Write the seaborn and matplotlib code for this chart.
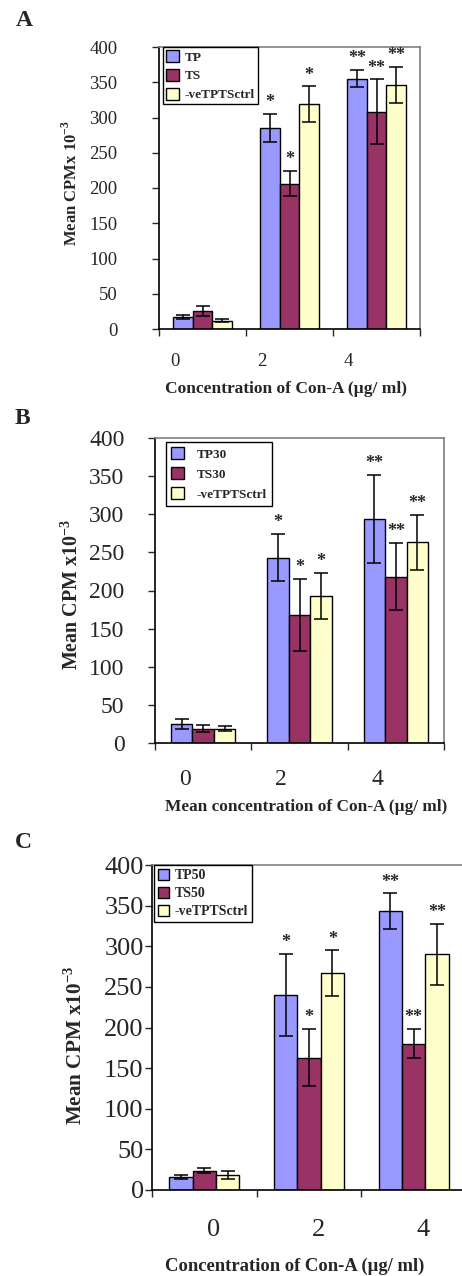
import matplotlib
matplotlib.use("Agg")
import matplotlib.pyplot as plt
import pandas as pd
import seaborn as sns

# concentrations of Con-A (x categories)
conc_labels = ["0", "2", "4"]

# Panel A
groups_a = ["TP", "TS", "-veTPTSctrl"]
tp_a = [16.5, 285, 355]
tp_a_err = [3, 20, 12]
ts_a = [25.5, 206, 308]
ts_a_err = [7, 18, 46]
ctrl_a = [12, 319, 346]
ctrl_a_err = [2, 25, 26]

# Panel B
groups_b = ["TP30", "TS30", "-veTPTSctrl"]
tp_b = [25, 243, 294]
tp_b_err = [7, 31, 58]
ts_b = [19, 168, 218]
ts_b_err = [4, 47, 44]
ctrl_b = [19, 193, 263]
ctrl_b_err = [3, 30, 36]

# Panel C
groups_c = ["TP50", "TS50", "-veTPTSctrl"]
tp_c = [16, 240, 343]
tp_c_err = [3, 51, 22]
ts_c = [24, 163, 180]
ts_c_err = [3, 35, 18]
ctrl_c = [18, 267, 290]
ctrl_c_err = [5, 28, 38]

# significance marks (same for every series and panel)
stars = ["", "*", "**"]

colors = ["#9999FF", "#993366", "#FFFFCC"]

W, H = 462, 1276
sns.set_style("ticks")
plt.rcParams["font.family"] = ["Liberation Serif", "DejaVu Serif"]
plt.rcParams["mathtext.fontset"] = "custom"
plt.rcParams["mathtext.rm"] = "Liberation Serif:bold"
plt.rcParams["mathtext.bf"] = "Liberation Serif:bold"

fig = plt.figure(figsize=(W / 100, H / 100), dpi=100)


def px_axes(left, top, right, bottom):
    return fig.add_axes([left / W, 1 - bottom / H, (right - left) / W, (bottom - top) / H])


def panel(box, groups, series, errs, ylabel, xlabel, tick_fs, tick_pad, ylab_px, xlab_px,
          ylab_fs, xlab_fs, xshift, legend_pos, legend_kw, ypad, right_spine=True):
    left, top, right, bottom = box
    ax = px_axes(*box)
    df = pd.DataFrame({
        "conc": conc_labels * 3,
        "group": [g for g in groups for _ in conc_labels],
        "value": [v for s in series for v in s],
    })
    sns.barplot(data=df, x="conc", y="value", hue="group", palette=colors, saturation=1,
                edgecolor="black", linewidth=1, errorbar=None, width=0.67, ax=ax)
    bar_sets = list(ax.containers)
    for i, cont in enumerate(bar_sets):
        for j, bar in enumerate(cont):
            x = bar.get_x() + bar.get_width() / 2
            h = bar.get_height()
            ax.errorbar(x, h, yerr=errs[i][j], color="black", capsize=5, lw=1.1, capthick=1.1)
            if stars[j]:
                ax.annotate(stars[j], (x, h + errs[i][j]), xytext=(0, 2), textcoords="offset points",
                            ha="center", va="bottom", fontsize=13, fontweight="bold")
    ax.set_ylim(0, 400)
    ax.set_xlim(-0.5, 2.5)
    ax.set_yticks(range(0, 401, 50))
    ax.tick_params(axis="y", labelsize=tick_fs, pad=ypad, length=5, width=1)
    ax.set_xticks([-0.5, 0.5, 1.5, 2.5], ["", "", "", ""])
    ax.tick_params(axis="x", which="major", length=5, width=1)
    ax.set_xticks([k - xshift for k in range(3)], conc_labels, minor=True)
    ax.tick_params(axis="x", which="minor", length=0, labelsize=tick_fs, pad=tick_pad)
    ax.set_ylabel(ylabel, fontsize=ylab_fs, fontweight="bold", va="center")
    ax.set_xlabel(xlabel, fontsize=xlab_fs, fontweight="bold", va="center")
    ax.yaxis.set_label_coords((ylab_px[0] - left) / (right - left), (bottom - ylab_px[1]) / (bottom - top))
    ax.xaxis.set_label_coords((xlab_px[0] - left) / (right - left), (bottom - xlab_px[1]) / (bottom - top))
    for s in ["top", "right"]:
        ax.spines[s].set_color("#808080")
        ax.spines[s].set_linewidth(1.2)
    ax.spines["right"].set_visible(right_spine)
    for s in ["left", "bottom"]:
        ax.spines[s].set_color("black")
        ax.spines[s].set_linewidth(1.2)
    lx, ly = legend_pos
    leg = ax.legend(loc="upper left", bbox_to_anchor=((lx - left) / (right - left), (bottom - ly) / (bottom - top)),
                    borderaxespad=0, frameon=True, fancybox=False, framealpha=1, edgecolor="black",
                    **legend_kw)
    leg.get_frame().set_linewidth(1)
    return ax


xl = "Concentration of Con-A (\u00b5g/ ml)"
panel((159, 47, 420, 329), groups_a, [tp_a, ts_a, ctrl_a], [tp_a_err, ts_a_err, ctrl_a_err],
      r"Mean CPMx 10$^{-3}$", xl, 13.5, 17, (71, 183), (286, 389), 12, 12.5, 0.32, (163, 47),
      dict(prop={"weight": "bold", "size": 9.5}, handlelength=1.0, handleheight=1.0,
           handletextpad=0.4, labelspacing=0.4, borderpad=0.25), 25)
panel((155, 438, 444, 743), groups_b, [tp_b, ts_b, ctrl_b], [tp_b_err, ts_b_err, ctrl_b_err],
      r"Mean CPM x10$^{-3}$", "Mean concentration of Con-A (\u00b5g/ ml)", 17, 19, (72, 594), (306, 807),
      14.4, 12.4, 0.19, (166, 442),
      dict(prop={"weight": "bold", "size": 9.5}, handlelength=1.0, handleheight=1.0,
           handletextpad=0.9, labelspacing=0.5, borderpad=0.4), 17)
panel((152, 865, 466, 1190), groups_c, [tp_c, ts_c, ctrl_c], [tp_c_err, ts_c_err, ctrl_c_err],
      r"Mean CPM x10$^{-3}$", xl, 19, 21, (75, 1045), (295, 1266), 15.2, 13.4, -0.09, (154, 865),
      dict(prop={"weight": "bold", "size": 10}, handlelength=0.8, handleheight=0.8,
           handletextpad=0.4, labelspacing=0.35, borderpad=0.3), 1,
      right_spine=False)

for letter, (x, y) in zip("ABC", [(24, 20), (22, 418), (23, 842)]):
    fig.text(x / W, 1 - y / H, letter, fontsize=17, fontweight="bold", ha="center", va="center")

fig.savefig("out.png", dpi=100)
